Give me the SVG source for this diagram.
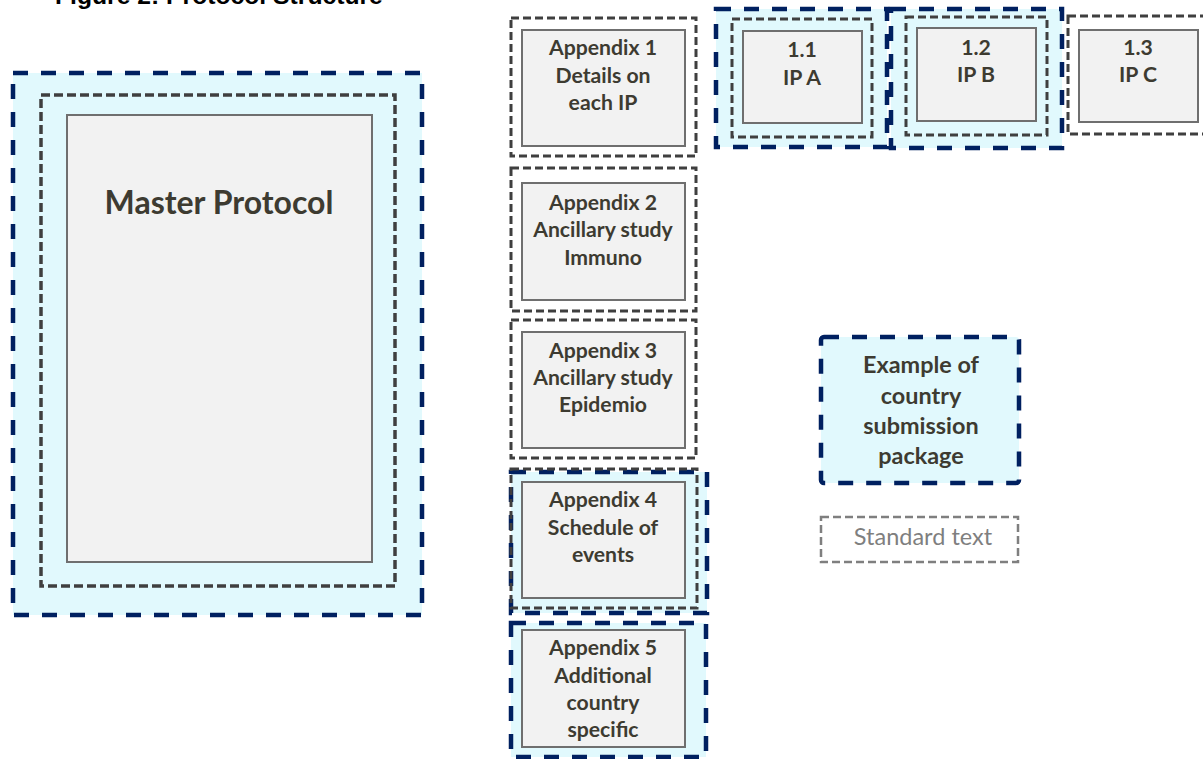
<svg xmlns="http://www.w3.org/2000/svg" width="1203" height="759" viewBox="0 0 1203 759">
<style>
.navy{fill:#e1f9fd;stroke:#002060;stroke-width:4.5;stroke-dasharray:15 13}
.dk{fill:none;stroke:#3f3f3f;stroke-width:3;stroke-dasharray:8 4}
.box{fill:#f2f2f2;stroke:#6f6f6f;stroke-width:2}
.t{font-family:Lato,"Open Sans","Liberation Sans",sans-serif;font-weight:bold;font-size:21.2px;fill:#3d3b31;text-anchor:middle}
.title{font-family:"Liberation Sans",Arial,sans-serif;font-weight:bold;font-size:24.7px;fill:#000}
</style>
<rect width="1203" height="759" fill="#ffffff"/>
<text class="title" x="55" y="4">Figure 2: Protocol Structure</text>

<g id="master">
<rect class="navy" x="13" y="73" width="409" height="542"/>
<rect class="dk" x="41" y="95" width="354" height="491" style="stroke-width:3.5;stroke-dasharray:9 4"/>
<rect class="box" x="67" y="115" width="305" height="447"/>
<text class="t" x="219" y="214" style="font-size:32px">Master Protocol</text>
</g>

<g id="appendix1">
<rect class="dk" x="511" y="18" width="185" height="138"/>
<rect class="box" x="522" y="30" width="163" height="116"/>
<text class="t" x="603" y="55">Appendix 1</text>
<text class="t" x="603" y="83">Details on</text>
<text class="t" x="603" y="110">each IP</text>
</g>

<g id="appendix2">
<rect class="dk" x="511" y="168" width="185" height="143"/>
<rect class="box" x="522" y="183" width="163" height="117"/>
<text class="t" x="603" y="210">Appendix 2</text>
<text class="t" x="603" y="237">Ancillary study</text>
<text class="t" x="603" y="265">Immuno</text>
</g>

<g id="appendix3">
<rect class="dk" x="511" y="320" width="185" height="138"/>
<rect class="box" x="522" y="332" width="163" height="116"/>
<text class="t" x="603" y="358">Appendix 3</text>
<text class="t" x="603" y="385">Ancillary study</text>
<text class="t" x="603" y="412">Epidemio</text>
</g>

<g id="appendix4">
<rect class="navy" x="511" y="472" width="196" height="141"/>
<rect class="dk" x="511" y="469" width="186" height="139"/>
<rect class="box" x="522" y="482" width="163" height="116"/>
<text class="t" x="603" y="507">Appendix 4</text>
<text class="t" x="603" y="535">Schedule of</text>
<text class="t" x="603" y="562">events</text>
</g>

<g id="appendix5">
<rect class="navy" x="511" y="623" width="195" height="134"/>
<rect class="box" x="522" y="630" width="163" height="117"/>
<text class="t" x="603" y="655">Appendix 5</text>
<text class="t" x="603" y="683">Additional</text>
<text class="t" x="603" y="710">country</text>
<text class="t" x="603" y="737">specific</text>
</g>

<g id="ipA">
<rect class="navy" x="716" y="9" width="171" height="138"/>
<rect class="dk" x="732" y="19" width="140" height="118"/>
<rect class="box" x="743" y="31" width="119" height="92"/>
<text class="t" x="802" y="57">1.1</text>
<text class="t" x="802" y="85">IP A</text>
</g>

<g id="ipB">
<rect class="navy" x="891" y="9" width="171" height="139"/>
<rect class="dk" x="906" y="17" width="141" height="118"/>
<rect class="box" x="917" y="28" width="119" height="93"/>
<text class="t" x="976" y="55">1.2</text>
<text class="t" x="976" y="82">IP B</text>
</g>

<g id="ipC">
<rect class="dk" x="1068" y="16" width="150" height="118"/>
<rect class="box" x="1079" y="30" width="119" height="92"/>
<text class="t" x="1138" y="55">1.3</text>
<text class="t" x="1138" y="82">IP C</text>
</g>

<g id="legend-package">
<rect class="navy" x="821" y="337" width="198" height="146" rx="3"/>
<text class="t" x="921" y="373" style="font-size:23.4px">Example of</text>
<text class="t" x="921" y="404" style="font-size:23.4px">country</text>
<text class="t" x="921" y="434" style="font-size:23.4px">submission</text>
<text class="t" x="921" y="464" style="font-size:23.4px">package</text>
</g>

<g id="legend-standard">
<rect x="821" y="517" width="197" height="45" fill="none" stroke="#7f7f7f" stroke-width="2.5" stroke-dasharray="8 4"/>
<text class="t" x="923" y="545" style="font-weight:normal;fill:#7f7f7f;font-size:23.5px">Standard text</text>
</g>

<g id="connectors"/>
</svg>
